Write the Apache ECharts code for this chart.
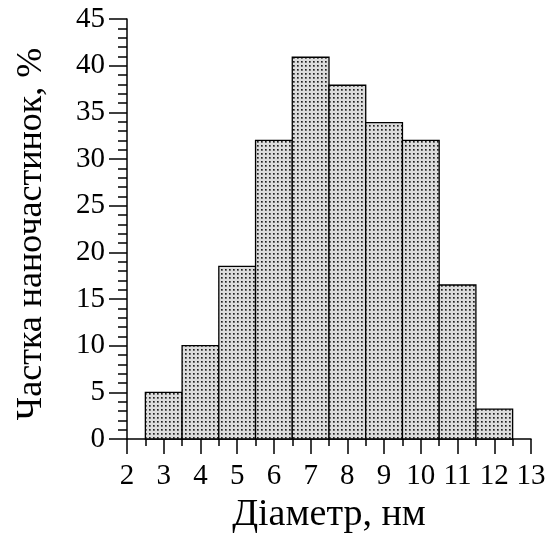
<!DOCTYPE html>
<html>
<head>
<meta charset="utf-8">
<script src="https://cdn.jsdelivr.net/npm/echarts@6/dist/echarts.min.js"></script>
<style>
  html, body { margin: 0; padding: 0; background: #fff; }
  #chart { width: 547px; height: 535px; }
</style>
</head>
<body>
<div id="chart"></div>
<script>
// Histogram bins (centre of each 1 nm bin) and share of nanoparticles, %
const binCenters = [3, 4, 5, 6, 7, 8, 9, 10, 11, 12];
const shares = [5, 10, 18.5, 32, 40.9, 37.9, 33.9, 32, 16.5, 3.2];
const binWidth = 1;

const xTitle = 'Діаметр, нм';
const yTitle = 'Частка наночастинок, %';

// Small dotted tile used as the bar fill
function makeDotTile() {
  const c = document.createElement('canvas');
  c.width = 4; c.height = 4;
  const ctx = c.getContext('2d');
  ctx.fillStyle = '#dcdcdc';
  ctx.fillRect(0, 0, 4, 4);
  ctx.fillStyle = '#606060';
  ctx.fillRect(1, 1, 2, 2);
  ctx.fillStyle = '#808080';
  ctx.fillRect(2, 2, 1, 1);
  ctx.fillStyle = '#1e1e1e';
  ctx.fillRect(1, 1, 1, 1);
  return c;
}
const dotFill = { image: makeDotTile(), repeat: 'repeat' };

const font = 'Liberation Serif, Times New Roman, serif';
const chart = echarts.init(document.getElementById('chart'), null, { renderer: 'canvas' });

chart.setOption({
  animation: false,
  backgroundColor: '#fff',
  grid: { left: 127, right: 16, top: 19, bottom: 96, containLabel: false, outerBoundsMode: 'none' },
  xAxis: {
    type: 'value',
    min: 2, max: 13, interval: 1,
    name: xTitle,
    nameLocation: 'middle',
    nameGap: 53,
    nameTextStyle: { fontFamily: font, fontSize: 38, color: '#000' },
    axisLine: { show: true, lineStyle: { color: '#000', width: 1.5 } },
    axisTick: { show: true, inside: false, length: 15, lineStyle: { color: '#000', width: 1.5 } },
    minorTick: { show: true, splitNumber: 2, length: 7, lineStyle: { color: '#000', width: 1.5 } },
    axisLabel: { fontFamily: font, fontSize: 29, color: '#000', margin: 23 },
    splitLine: { show: false }
  },
  yAxis: {
    type: 'value',
    min: 0, max: 45, interval: 5,
    name: yTitle,
    nameLocation: 'middle',
    nameGap: 77,
    nameRotate: 90,
    nameTextStyle: { fontFamily: font, fontSize: 36, color: '#000', padding: [0, 10, 0, 0] },
    axisLine: { show: true, lineStyle: { color: '#000', width: 1.5 } },
    axisTick: { show: true, inside: false, length: 18, lineStyle: { color: '#000', width: 1.5 } },
    minorTick: { show: true, splitNumber: 5, length: 9, lineStyle: { color: '#000', width: 1.5 } },
    axisLabel: { fontFamily: font, fontSize: 29, color: '#000', margin: 22 },
    splitLine: { show: false }
  },
  series: [{
    type: 'custom',
    data: binCenters.map((x, i) => [x, shares[i]]),
    encode: { x: 0, y: 1 },
    renderItem: function (params, api) {
      const x = api.value(0);
      const v = api.value(1);
      const p0 = api.coord([x - binWidth / 2, v]);
      const p1 = api.coord([x + binWidth / 2, 0]);
      return {
        type: 'rect',
        shape: { x: p0[0], y: p0[1], width: p1[0] - p0[0], height: p1[1] - p0[1] },
        style: { fill: dotFill, stroke: '#000', lineWidth: 1.3 }
      };
    }
  }]
});
</script>
</body>
</html>
